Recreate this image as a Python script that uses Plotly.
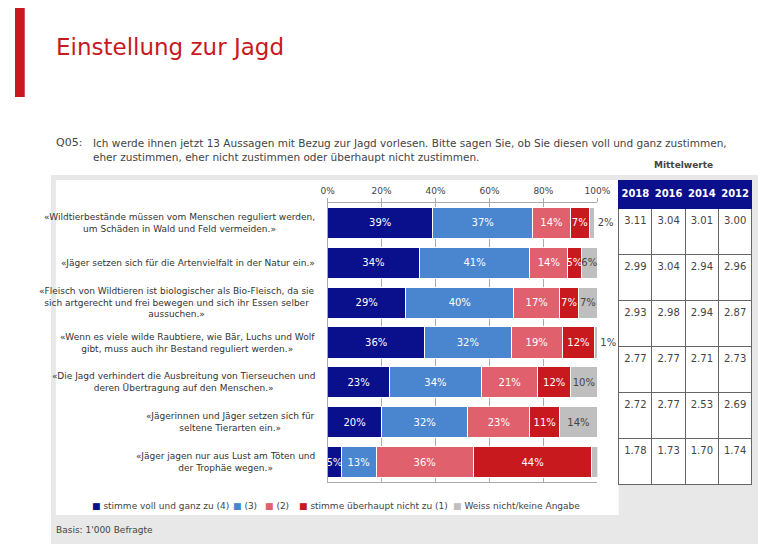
import plotly.graph_objects as go

statements = [
    "«Wildtierbestände müssen vom Menschen reguliert werden,<br>um Schäden in Wald und Feld vermeiden.»",
    "«Jäger setzen sich für die Artenvielfalt in der Natur ein.»",
    "«Fleisch von Wildtieren ist biologischer als Bio-Fleisch, da sie<br>sich artgerecht und frei bewegen und sich ihr Essen selber<br>aussuchen.»",
    "«Wenn es viele wilde Raubtiere, wie Bär, Luchs und Wolf<br>gibt, muss auch ihr Bestand reguliert werden.»",
    "«Die Jagd verhindert die Ausbreitung von Tierseuchen und<br>deren Übertragung auf den Menschen.»",
    "«Jägerinnen und Jäger setzen sich für<br>seltene Tierarten ein.»",
    "«Jäger jagen nur aus Lust am Töten und<br>der Trophäe wegen.»",
]
series_names = ["stimme voll und ganz zu (4)", "(3)", "(2)", "stimme überhaupt nicht zu (1)", "Weiss nicht/keine Angabe"]
values = [
    [39, 34, 29, 36, 23, 20, 5],
    [37, 41, 40, 32, 34, 32, 13],
    [14, 14, 17, 19, 21, 23, 36],
    [7, 5, 7, 12, 12, 11, 44],
    [2, 6, 7, 1, 10, 14, 3],
]
colors = ["#0a0f8c", "#4a86d0", "#e0606e", "#c8191e", "#bfbfbf"]
years = ["2018", "2016", "2014", "2012"]
mean_2018 = [3.11, 2.99, 2.93, 2.77, 2.72, 1.78]
mean_2016 = [3.04, 3.04, 2.98, 2.77, 2.77, 1.73]
mean_2014 = [3.01, 2.94, 2.94, 2.71, 2.53, 1.70]
mean_2012 = [3.00, 2.96, 2.87, 2.73, 2.69, 1.74]
legend_x = [85, 230, 263, 298, 456]  # reference pixel positions of legend entries

# page seems to have an 8px body margin, so work in reference pixels and shift
OFF = 8
W, H = 771 - OFF, 544 - OFF
px = lambda v: (v - OFF) / W
py = lambda v: 1 - (v - OFF) / H

fig = go.Figure()
ycat = list(range(len(statements)))
for i, (name, vals, col) in enumerate(zip(series_names, values, colors)):
    if i == 4:
        pos = ["inside" if v >= 6 else "outside" for v in vals]
    else:
        pos = "inside"
    fig.add_trace(go.Bar(
        y=ycat, x=vals, name=name, orientation="h", showlegend=False,
        marker=dict(color=col, line=dict(color="white", width=1)),
        text=[f"{v}%" for v in vals],
        textposition=pos,
        insidetextanchor="middle", constraintext="none", textangle=0,
        textfont=dict(size=10, color="white" if i < 4 else "#444"),
        cliponaxis=False,
    ))

fig.add_trace(go.Table(
    domain=dict(x=[px(628), px(765)], y=[py(487), py(180)]),
    header=dict(values=[f"<b>{y}</b>" for y in years], fill_color="#0a0f8c",
                font=dict(color="white", size=10), height=28,
                line=dict(color="#0a0f8c"), align="center"),
    cells=dict(values=[[f"{v:.2f}" for v in m] for m in [mean_2018, mean_2016, mean_2014, mean_2012]],
               fill_color="white", font=dict(color="#444", size=10),
               height=46, line=dict(color="#666", width=1), align="center"),
))

shapes = [
    dict(type="rect", xref="paper", yref="paper", x0=px(45), x1=1, y0=0, y1=py(175),
         fillcolor="#e8e8e8", line_width=0, layer="below"),
    dict(type="rect", xref="paper", yref="paper", x0=px(50), x1=px(628), y0=py(515), y1=py(180),
         fillcolor="white", line_width=0, layer="below"),
    dict(type="rect", xref="paper", yref="paper", x0=0, x1=px(18), y0=py(97), y1=1,
         fillcolor="#c8191e", line_width=0),
]
ann = [
    dict(x=px(48), y=py(47), text="Einstellung zur Jagd", font=dict(size=23, color="#c8191e")),
    dict(x=px(48), y=py(142), text="Q05:", font=dict(size=11, color="#444")),
    dict(x=px(86), y=py(150), align="left",
         text="Ich werde ihnen jetzt 13 Aussagen mit Bezug zur Jagd vorlesen. Bitte sagen Sie, ob Sie diesen voll und ganz zustimmen,<br>eher zustimmen, eher nicht zustimmen oder überhaupt nicht zustimmen.",
         font=dict(size=10.5, color="#444")),
    dict(x=px(662), y=py(165), text="<b>Mittelwerte</b>", font=dict(size=9, color="#444")),
    dict(x=px(48), y=py(530), text="Basis: 1'000 Befragte", font=dict(size=9, color="#444")),
]
for lx, name, col in zip(legend_x, series_names, colors):
    ann.append(dict(x=px(lx), y=py(506), text=f"<span style='color:{col}'>■</span> {name}",
                    font=dict(size=9, color="#444")))
for a in ann:
    a.update(xref="paper", yref="paper", xanchor="left", yanchor="middle", showarrow=False)
for i, s in enumerate(statements):
    ann.append(dict(x=px(318), y=i, xref="paper", yref="y", xanchor="right", yanchor="middle",
                    text=s, align="center", showarrow=False, font=dict(size=9, color="#333")))

fig.update_layout(
    width=W, height=H, margin=dict(l=0, r=0, t=0, b=0),
    paper_bgcolor="white", plot_bgcolor="white", barmode="stack", bargap=0.22,
    font=dict(family="DejaVu Sans", color="#444"),
    shapes=shapes, annotations=ann, showlegend=False,
    xaxis=dict(domain=[px(329), px(606)], side="top", range=[0, 100], tickvals=[0, 20, 40, 60, 80, 100],
               ticktext=["0%", "20%", "40%", "60%", "80%", "100%"], showgrid=True, gridcolor="#aaa",
               tickfont=dict(size=9), linecolor="#aaa", showline=True, mirror=True, ticks="outside",
               tickcolor="#aaa", ticklen=4),
    yaxis=dict(domain=[py(482), py(203)], autorange="reversed", showticklabels=False,
               linecolor="#aaa", showline=True, ticks="", showgrid=False),
)
fig.write_html("out.html")
